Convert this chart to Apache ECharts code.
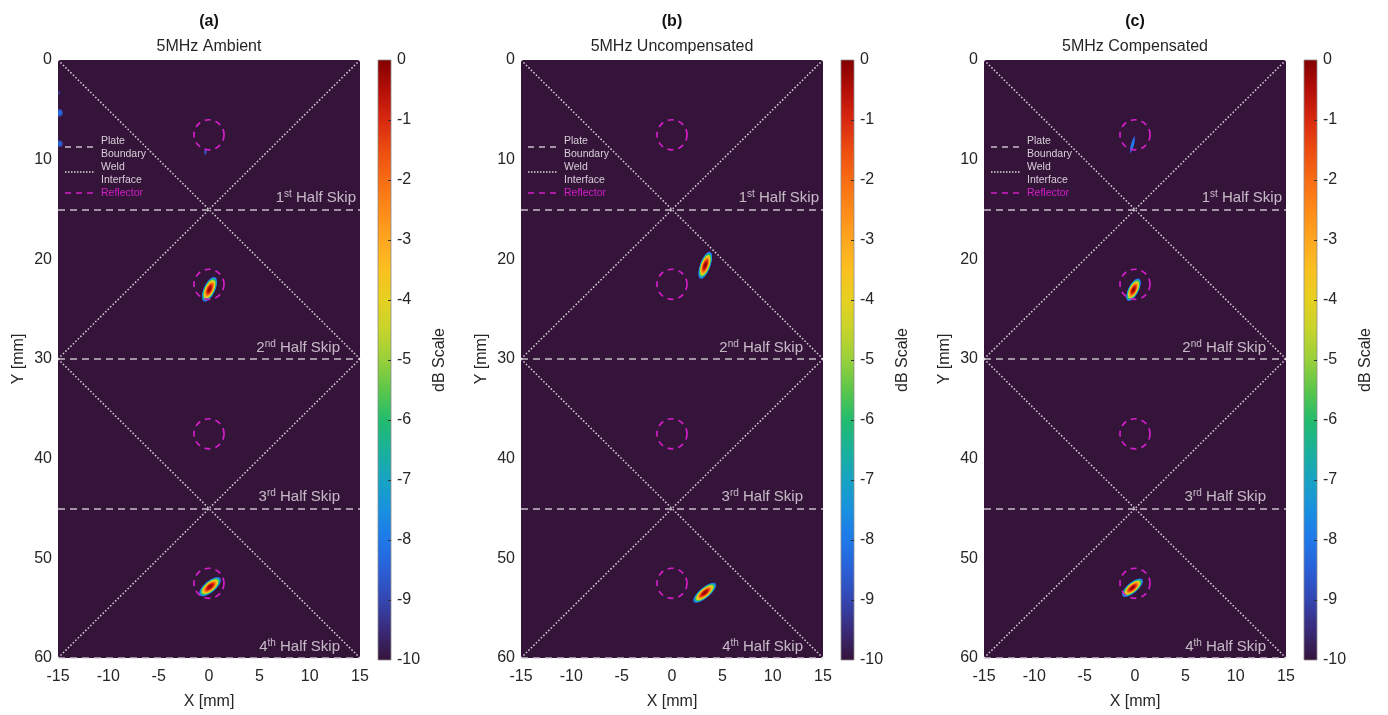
<!DOCTYPE html>
<html><head><meta charset="utf-8">
<script src="https://cdn.jsdelivr.net/npm/echarts@6/dist/echarts.min.js"></script>
<style>html,body{margin:0;padding:0;background:#fff}#c{width:1388px;height:715px}</style>
</head><body><div id="c"></div><script>
// ---------------- DATA ----------------
const panelLetters = ['(a)', '(b)', '(c)'];
const panelTitles = ['5MHz Ambient', '5MHz Uncompensated', '5MHz Compensated'];
const xMin = -15, xMax = 15, xStep = 5;
const yMin = 0, yMax = 60, yStep = 10;
const dbMin = -10, dbMax = 0, dbStep = 1;
const plateBoundaries = [15, 30, 45, 60];
const skipOrdinals = [['1', 'st'], ['2', 'nd'], ['3', 'rd'], ['4', 'th']];
const weldSegments = [
  [[-15, 0], [15, 30]], [[15, 0], [-15, 30]],
  [[-15, 30], [15, 60]], [[15, 30], [-15, 60]]
];
const reflectorCentres = [[0, 7.5], [0, 22.5], [0, 37.5], [0, 52.5]];
const reflectorRadius = 1.5;
// blob: [x mm, y mm, length mm, width mm, tilt deg (clockwise from vertical), peak dB]
const blobsAmbient = [
  [0.05, 23.0, 2.8, 1.2, 25, 0],
  [0.1, 52.85, 2.8, 1.2, 50, 0],
  [-0.35, 9.2, 0.8, 0.4, 10, -8.8],
  [-14.9, 3.3, 0.5, 0.4, 0, -9.2],
  [-14.85, 5.3, 0.9, 0.8, 0, -8.0],
  [-14.85, 8.4, 0.8, 0.8, 0, -8.2]
];
const blobsUncompensated = [
  [3.3, 20.6, 3.0, 1.1, 20, 0],
  [3.25, 53.45, 3.0, 1.1, 50, 0]
];
const blobsCompensated = [
  [-0.25, 8.5, 2.0, 0.4, 15, -7.6],
  [-0.15, 23.05, 2.6, 1.1, 27, 0],
  [-0.25, 52.95, 2.7, 1.1, 50, 0]
];
const panelBlobs = [blobsAmbient, blobsUncompensated, blobsCompensated];

// ---------------- STYLE / LAYOUT ----------------
const FONT = 'Liberation Sans, Arial, Helvetica, sans-serif';
const TXT = '#262626';
const BG = '#35143a';
const plotLefts = [58, 521, 984];
const cbLefts = [378, 841, 1304];
const plotTop = 60, plotW = 302, plotH = 600, cbW = 13;
const skipLabelRightOffset = [-4, -20, -20, -20];
const cmap = [
  [-10, '#35143a'], [-9.5, '#3a2a78'], [-9, '#3446b0'], [-8.5, '#2a5fd6'],
  [-8, '#1f78ea'], [-7.5, '#1890e0'], [-7, '#17a3c4'], [-6.5, '#19b19a'],
  [-6, '#22bc6e'], [-5.5, '#5cc64a'], [-5, '#98d03a'], [-4.5, '#c6d42c'],
  [-4, '#e6d020'], [-3.5, '#fac020'], [-3, '#ffa620'], [-2.5, '#ff8a18'],
  [-2, '#f86c14'], [-1.5, '#ec4c10'], [-1, '#d82810'], [-0.5, '#b40e08'],
  [0, '#820000']
];
function hex2rgb(h) { return [parseInt(h.slice(1, 3), 16), parseInt(h.slice(3, 5), 16), parseInt(h.slice(5, 7), 16)]; }
function cmapColor(v) {
  if (v <= cmap[0][0]) return cmap[0][1];
  for (let i = 1; i < cmap.length; i++) {
    if (v <= cmap[i][0]) {
      const t = (v - cmap[i - 1][0]) / (cmap[i][0] - cmap[i - 1][0]);
      const a = hex2rgb(cmap[i - 1][1]), b = hex2rgb(cmap[i][1]);
      return 'rgb(' + a.map((c, k) => Math.round(c + (b[k] - c) * t)).join(',') + ')';
    }
  }
  return cmap[cmap.length - 1][1];
}
function blobGradient(peak) {
  const stops = [{ offset: 0, color: cmapColor(peak) }];
  for (let i = cmap.length - 1; i >= 0; i--) {
    const v = cmap[i][0];
    if (v >= peak) continue;
    const off = Math.sqrt((peak - v) / (peak - dbMin));
    stops.push({ offset: Math.min(1, off), color: v <= dbMin ? 'rgba(53,20,58,0)' : cmap[i][1] });
  }
  return new echarts.graphic.RadialGradient(0.5, 0.5, 0.5, stops);
}
const cbStops = cmap.slice().reverse().map(s => ({ offset: (dbMax - s[0]) / (dbMax - dbMin), color: s[1] }));

const grid = [], xAxis = [], yAxis = [], series = [], title = [], graphic = [];
const axisLabel = { fontSize: 16, color: TXT, fontFamily: FONT };
const nameStyle = { fontSize: 16, color: TXT, fontFamily: FONT };

for (let p = 0; p < 3; p++) {
  const L = plotLefts[p];
  const gi = grid.length;
  grid.push({ left: L, top: plotTop, width: plotW, height: plotH, show: true, backgroundColor: BG, borderWidth: 0 });
  xAxis.push({ type: 'value', gridIndex: gi, min: xMin, max: xMax, interval: xStep,
    axisLine: { show: false }, axisTick: { show: false }, splitLine: { show: false },
    axisLabel: Object.assign({ margin: 11 }, axisLabel),
    name: 'X [mm]', nameLocation: 'middle', nameGap: 36, nameTextStyle: nameStyle });
  yAxis.push({ type: 'value', gridIndex: gi, min: yMin, max: yMax, interval: yStep, inverse: true,
    axisLine: { show: false }, axisTick: { show: false }, splitLine: { show: false },
    axisLabel: Object.assign({ margin: 6 }, axisLabel),
    name: 'Y [mm]', nameLocation: 'middle', nameGap: 31, nameRotate: 90, nameTextStyle: nameStyle });
  const ai = xAxis.length - 1;

  // blobs
  series.push({ type: 'custom', xAxisIndex: ai, yAxisIndex: ai, clip: true, silent: true, z: 2,
    data: panelBlobs[p],
    renderItem: function (params, api) {
      const c = api.coord([api.value(0), api.value(1)]);
      const s = api.size([api.value(3), api.value(2)]);
      return { type: 'circle', shape: { cx: 0, cy: 0, r: 10 }, x: c[0], y: c[1],
        scaleX: s[0] / 20, scaleY: s[1] / 20, rotation: -api.value(4) * Math.PI / 180,
        style: { fill: blobGradient(api.value(5)) } };
    } });
  // plate boundaries
  series.push({ type: 'lines', coordinateSystem: 'cartesian2d', xAxisIndex: ai, yAxisIndex: ai, silent: true, z: 3,
    data: plateBoundaries.map(y => ({ coords: [[xMin, y], [xMax, y]] })),
    lineStyle: { color: '#c6bec8', width: 1.5, type: [7, 5], opacity: 1 } });
  // weld interface
  series.push({ type: 'lines', coordinateSystem: 'cartesian2d', xAxisIndex: ai, yAxisIndex: ai, silent: true, z: 3,
    data: weldSegments.map(s => ({ coords: s })),
    lineStyle: { color: '#dcd6dc', width: 1.5, type: [1.5, 2], opacity: 1 } });
  // reflectors
  series.push({ type: 'custom', xAxisIndex: ai, yAxisIndex: ai, silent: true, z: 4,
    data: reflectorCentres.map(c => [c[0], c[1], reflectorRadius]),
    renderItem: function (params, api) {
      const c = api.coord([api.value(0), api.value(1)]);
      const s = api.size([api.value(2), api.value(2)]);
      return { type: 'circle', shape: { cx: c[0], cy: c[1], r: (s[0] + s[1]) / 2 },
        style: { fill: null, stroke: '#d21ec8', lineWidth: 1.7, lineDash: [6, 5] } };
    } });
  // half skip labels
  series.push({ type: 'scatter', xAxisIndex: ai, yAxisIndex: ai, silent: true, z: 5, symbolSize: 0,
    data: plateBoundaries.map((y, k) => ({ value: [xMax, y],
      label: { position: [skipLabelRightOffset[k], -3] } })),
    label: { show: true, align: 'right', verticalAlign: 'bottom',
      formatter: function (prm) { const o = skipOrdinals[prm.dataIndex]; return '{n|' + o[0] + '}{s|' + o[1] + '}{n| Half Skip}'; },
      rich: { n: { fontSize: 15, color: '#e8e2e8', fontFamily: FONT, lineHeight: 17 },
              s: { fontSize: 10, color: '#e8e2e8', fontFamily: FONT, verticalAlign: 'top', lineHeight: 17 } } } });

  // colour bar
  const cgi = grid.length;
  grid.push({ left: cbLefts[p], top: plotTop, width: cbW, height: plotH });
  xAxis.push({ type: 'value', gridIndex: cgi, min: 0, max: 1, show: false });
  yAxis.push({ type: 'value', gridIndex: cgi, min: dbMin, max: dbMax, interval: dbStep, position: 'right',
    axisLine: { show: false }, splitLine: { show: false }, axisTick: { show: false },
    axisLabel: Object.assign({ margin: 6 }, axisLabel),
    name: 'dB Scale', nameLocation: 'middle', nameGap: 41, nameRotate: 90, nameTextStyle: nameStyle });
  const ci = xAxis.length - 1;
  series.push({ type: 'custom', xAxisIndex: ci, yAxisIndex: ci, silent: true, z: 1,
    data: [[0, dbMin, 1, dbMax]],
    renderItem: function (params, api) {
      const a = api.coord([api.value(0), api.value(3)]);
      const b = api.coord([api.value(2), api.value(1)]);
      const children = [{ type: 'rect', shape: { x: a[0], y: a[1], width: b[0] - a[0], height: b[1] - a[1] },
        style: { fill: new echarts.graphic.LinearGradient(0, 0, 0, 1, cbStops), stroke: '#8a8a8a', lineWidth: 0.8 } }];
      for (let v = api.value(1) + dbStep; v < api.value(3); v += dbStep) {
        const t = api.coord([api.value(2), v]);
        children.push({ type: 'line', shape: { x1: t[0] - 3, y1: Math.round(t[1]) + 0.5, x2: t[0], y2: Math.round(t[1]) + 0.5 },
          style: { stroke: '#303030', lineWidth: 1 } });
      }
      return { type: 'group', children };
    } });

  // titles
  title.push({ text: panelLetters[p], subtext: panelTitles[p], left: L + plotW / 2, top: 12, textAlign: 'center', itemGap: 5, padding: 0,
    textStyle: { fontSize: 16, fontWeight: 'bold', color: '#111', fontFamily: FONT, lineHeight: 20 },
    subtextStyle: { fontSize: 16, color: TXT, fontFamily: FONT, lineHeight: 20 } });

  // in-plot legend
  const lg = '#d8d0d8';
  const lf = '10.5px ' + FONT;
  graphic.push(
    { type: 'line', shape: { x1: L + 7, y1: 147, x2: L + 37, y2: 147 }, style: { stroke: '#c6bec8', lineWidth: 1.5, lineDash: [6, 5] }, z: 10 },
    { type: 'text', x: L + 43, y: 141, style: { text: 'Plate', fill: lg, font: lf, verticalAlign: 'middle' }, z: 10 },
    { type: 'text', x: L + 43, y: 154, style: { text: 'Boundary', fill: lg, font: lf, verticalAlign: 'middle' }, z: 10 },
    { type: 'line', shape: { x1: L + 7, y1: 172, x2: L + 37, y2: 172 }, style: { stroke: '#dcd6dc', lineWidth: 1.5, lineDash: [1.5, 1.5] }, z: 10 },
    { type: 'text', x: L + 43, y: 167, style: { text: 'Weld', fill: lg, font: lf, verticalAlign: 'middle' }, z: 10 },
    { type: 'text', x: L + 43, y: 180, style: { text: 'Interface', fill: lg, font: lf, verticalAlign: 'middle' }, z: 10 },
    { type: 'line', shape: { x1: L + 7, y1: 193, x2: L + 37, y2: 193 }, style: { stroke: '#d21ec8', lineWidth: 1.5, lineDash: [6, 5] }, z: 10 },
    { type: 'text', x: L + 43, y: 193, style: { text: 'Reflector', fill: '#d21ec8', font: lf, verticalAlign: 'middle' }, z: 10 }
  );
}

const chart = echarts.init(document.getElementById('c'), null, { renderer: 'canvas' });
chart.setOption({ backgroundColor: '#ffffff', animation: false, title, grid, xAxis, yAxis, series, graphic });
</script></body></html>
